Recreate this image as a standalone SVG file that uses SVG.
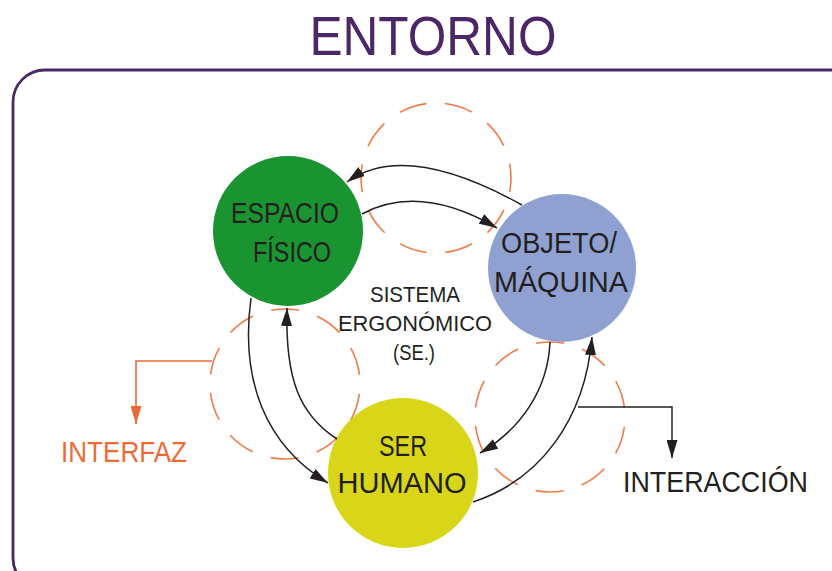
<svg xmlns="http://www.w3.org/2000/svg" width="832" height="571" viewBox="0 0 832 571">
<style>
.t{font-family:"Liberation Sans",Arial,sans-serif;fill:#231f20;}
.dash{fill:none;stroke:#f07a4a;stroke-width:1.6;stroke-dasharray:28 19;}
.con{fill:none;stroke:#231f20;stroke-width:1.5;}
.ocon{fill:none;stroke:#ee6a35;stroke-width:1.6;}
</style>
<defs>
<marker id="ah" markerUnits="userSpaceOnUse" markerWidth="19" markerHeight="11" refX="18" refY="5.5" orient="auto">
<path d="M0,0 L18,5.5 L0,11 z" fill="#231f20"/>
</marker>
<marker id="oah" markerUnits="userSpaceOnUse" markerWidth="19" markerHeight="11" refX="18" refY="5.5" orient="auto">
<path d="M0,0 L18,5.5 L0,11 z" fill="#ee6a35"/>
</marker>
</defs>
<rect width="832" height="571" fill="#ffffff"/>
<g id="entorno">
<text x="433" y="55" text-anchor="middle" font-family="Liberation Sans,Arial,sans-serif" font-size="56" fill="#4b2767" textLength="247" lengthAdjust="spacingAndGlyphs">ENTORNO</text>
<rect x="13" y="70" width="850" height="520" rx="32" ry="32" fill="none" stroke="#4b2767" stroke-width="2.8"/>
</g>
<g id="interfaces">
<circle cx="436" cy="178" r="75" class="dash" stroke-dashoffset="14"/>
<circle cx="285" cy="384" r="75" class="dash" stroke-dashoffset="37"/>
<circle cx="550" cy="417" r="75" class="dash" stroke-dashoffset="37"/>
</g>
<g id="espacio-fisico">
<circle cx="288" cy="231" r="75" fill="#1a9331"/>
<text class="t" x="285" y="223" text-anchor="middle" font-size="29" textLength="108" lengthAdjust="spacingAndGlyphs">ESPACIO</text>
<text class="t" x="292" y="262" text-anchor="middle" font-size="29" textLength="78" lengthAdjust="spacingAndGlyphs">FÍSICO</text>
</g>
<g id="objeto-maquina">
<circle cx="562" cy="268" r="74" fill="#8fa1d1"/>
<text class="t" x="559" y="253" text-anchor="middle" font-size="29" textLength="116" lengthAdjust="spacingAndGlyphs">OBJETO/</text>
<text class="t" x="561" y="292" text-anchor="middle" font-size="29" textLength="134" lengthAdjust="spacingAndGlyphs">MÁQUINA</text>
</g>
<g id="ser-humano">
<circle cx="403" cy="473" r="75" fill="#d9d61a"/>
<text class="t" x="403" y="456" text-anchor="middle" font-size="29" textLength="48" lengthAdjust="spacingAndGlyphs">SER</text>
<text class="t" x="402" y="493" text-anchor="middle" font-size="29" textLength="129" lengthAdjust="spacingAndGlyphs">HUMANO</text>
</g>
<g id="sistema">
<text class="t" x="415" y="302" text-anchor="middle" font-size="22" textLength="90" lengthAdjust="spacingAndGlyphs">SISTEMA</text>
<text class="t" x="415" y="331" text-anchor="middle" font-size="22" textLength="154" lengthAdjust="spacingAndGlyphs">ERGONÓMICO</text>
<text class="t" x="414" y="360" text-anchor="middle" font-size="22" textLength="42" lengthAdjust="spacingAndGlyphs">(SE.)</text>
</g>
<g id="connectors">
<path class="con" d="M522 205 Q405 140 347 182" marker-end="url(#ah)"/>
<path class="con" d="M362 214 Q420 183 497 228" marker-end="url(#ah)"/>
<path class="con" d="M251 298 C240 380 265 445 328 483" marker-end="url(#ah)"/>
<path class="con" d="M337 439 C300 415 285 380 287 308" marker-end="url(#ah)"/>
<path class="con" d="M550 342 C548 390 520 430 480 453" marker-end="url(#ah)"/>
<path class="con" d="M473 502 C540 480 585 420 592 337" marker-end="url(#ah)"/>
<path class="con" d="M578 407 H672 V458" marker-end="url(#ah)"/>
<path class="ocon" d="M212 361 H136 V424" marker-end="url(#oah)"/>
</g>
<g id="interaccion">
<text class="t" x="623" y="492" font-size="29" textLength="185" lengthAdjust="spacingAndGlyphs">INTERACCIÓN</text>
</g>
<g id="interfaz">
<text x="61" y="462" font-family="Liberation Sans,Arial,sans-serif" font-size="29" fill="#ee6a35" textLength="126" lengthAdjust="spacingAndGlyphs">INTERFAZ</text>
</g>
</svg>
